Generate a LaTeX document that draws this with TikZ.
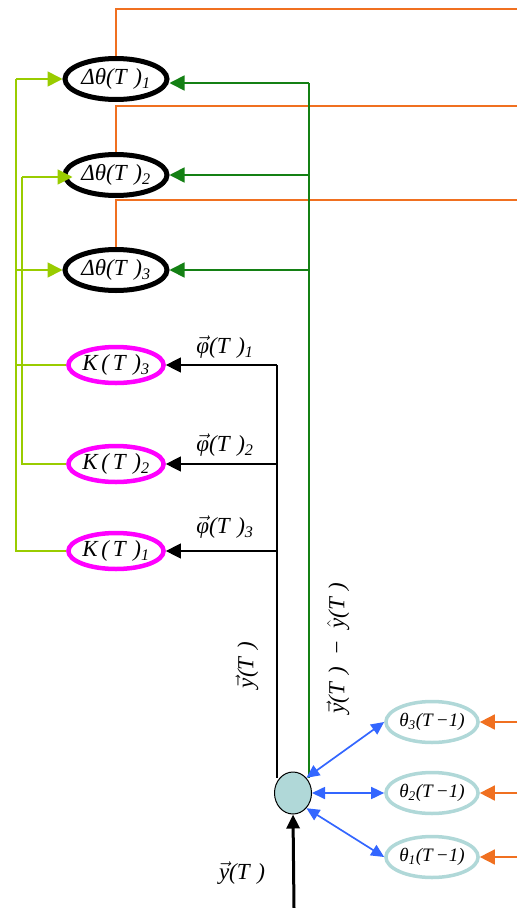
\documentclass[tikz,border=0pt]{standalone}
\usepackage{fontspec}
\setmainfont{Liberation Serif}
\usetikzlibrary{shapes.geometric,arrows.meta,calc}

\definecolor{orangeln}{RGB}{240,112,32}
\definecolor{darkgr}{RGB}{20,128,20}
\definecolor{lightgr}{RGB}{153,204,0}
\definecolor{magent}{RGB}{255,0,255}
\definecolor{bluearr}{RGB}{51,102,255}
\definecolor{paleteal}{RGB}{176,216,216}

\newcommand{\vecx}[1]{$\vec{\hbox{\itshape #1}}$}
\newcommand{\ofT}{(T\,\,)}

\begin{document}
\begin{tikzpicture}[x=1pt,y=-1pt,
  every node/.style={font=\fontsize{23}{25}\selectfont\itshape},
  dnode/.style={ellipse,draw=black,line width=5pt,fill=white,inner sep=0pt,
    minimum width=102pt,minimum height=41pt},
  knode/.style={ellipse,draw=magent,line width=4.5pt,fill=white,inner sep=0pt,
    minimum width=91pt,minimum height=36pt},
  tnode/.style={ellipse,draw=paleteal,line width=3.5pt,fill=white,inner sep=0pt,
    minimum width=85pt,minimum height=41pt,font=\fontsize{19}{21}\selectfont\itshape},
  sumnode/.style={ellipse,draw=black,line width=1pt,fill=paleteal,inner sep=0pt,
    minimum width=37pt,minimum height=42pt},
  orln/.style={draw=orangeln,line width=1.7pt},
  dgln/.style={draw=darkgr,line width=1.7pt},
  lgln/.style={draw=lightgr,line width=1.7pt},
  bkln/.style={draw=black,line width=1.3pt},
  blln/.style={draw=bluearr,line width=1.7pt},
  tip/.style={-{Triangle[length=15pt,width=15pt]}},
  btip/.style={{Triangle[length=13pt,width=12pt]}-{Triangle[length=13pt,width=12pt]}},
]
\useasboundingbox (0,0) rectangle (517,908);

% nodes
\node[dnode] (d1) at (116,79) {Δθ\ofT\textsubscript{1}};
\node[dnode] (d2) at (116,175) {Δθ\ofT\textsubscript{2}};
\node[dnode] (d3) at (116,270) {Δθ\ofT\textsubscript{3}};
\node[knode] (k3) at (116,365) {K\,(\,T\,\,)\textsubscript{3}};
\node[knode] (k2) at (116,464) {K\,(\,T\,\,)\textsubscript{2}};
\node[knode] (k1) at (116,551) {K\,(\,T\,\,)\textsubscript{1}};
\node[tnode] (t3) at (432,722) {θ\textsubscript{3}(T\,−1)};
\node[tnode] (t2) at (432,793) {θ\textsubscript{2}(T\,−1)};
\node[tnode] (t1) at (432,857) {θ\textsubscript{1}(T\,−1)};
\node[sumnode] (c) at (293,793) {};

% free ends and bus points
\coordinate (o1) at (517,9);
\coordinate (o2) at (517,106);
\coordinate (o3) at (517,200);
\coordinate (r3) at (517,722);
\coordinate (r2) at (517,793);
\coordinate (r1) at (517,857);
\coordinate (ga) at (309,83);
\coordinate (ba) at (277,365);
\coordinate (la) at (16,79);
\coordinate (lb) at (22,177);
\coordinate (bin) at (294,908);

% orange outputs
\draw[orln] (d1.north) |- (o1);
\draw[orln] (d2.north) |- (o2);
\draw[orln] (d3.north) |- (o3);

% orange inputs
\draw[orln,tip] (r3) -- (t3.east);
\draw[orln,tip] (r2) -- (t2.east);
\draw[orln,tip] (r1) -- (t1.east);

% error feedback bus
\draw[dgln] (ga) -- (ga |- c.north east);
\draw[dgln,tip] (ga) -- (ga -| d1.east);
\draw[dgln,tip] (ga |- d2.east) -- (d2.east);
\draw[dgln,tip] (ga |- d3.east) -- (d3.east);

% regressor bus
\draw[bkln] (ba) -- (ba |- c.north west);
\draw[bkln,tip] (ba) -- (k3.east);
\draw[bkln,tip] (ba |- k2.east) -- (k2.east);
\draw[bkln,tip] (ba |- k1.east) -- (k1.east);

% gain paths
\draw[lgln] (k1.west) -| (la);
\draw[lgln,tip] (la) -- (d1.west);
\draw[lgln,tip] (la |- d3.west) -- (d3.west);
\draw[lgln] (k3.west) -- (k3.west -| la);
\draw[lgln] (k2.west) -| (lb);
\draw[lgln,tip] (lb) -- ([xshift=10pt]d2.west |- lb);

% parameter links
\draw[blln,btip] (c.north east) -- (t3.west);
\draw[blln,btip] (c.east) -- (t2.west);
\draw[blln,btip] (c.south east) -- (t1.west);

% measured output
\draw[line width=3pt,-{Triangle[length=14pt,width=13pt]}] (bin) -- (c.south);

% labels
\node (p1) at (225,347) {\vecx{φ}\ofT\textsubscript{1}};
\node (p2) at (225,445) {\vecx{φ}\ofT\textsubscript{2}};
\node (p3) at (225,527) {\vecx{φ}\ofT\textsubscript{3}};
\node (yin) at (242,873) {\vecx{y}\ofT};
\node[rotate=90] (yb) at (247,665) {\vecx{y}\ofT};
\node[rotate=90] (err) at (338,648) {\vecx{y}\ofT\enspace−\enspace$\hat{\hbox{\itshape y}}$\ofT};
\end{tikzpicture}
\end{document}
